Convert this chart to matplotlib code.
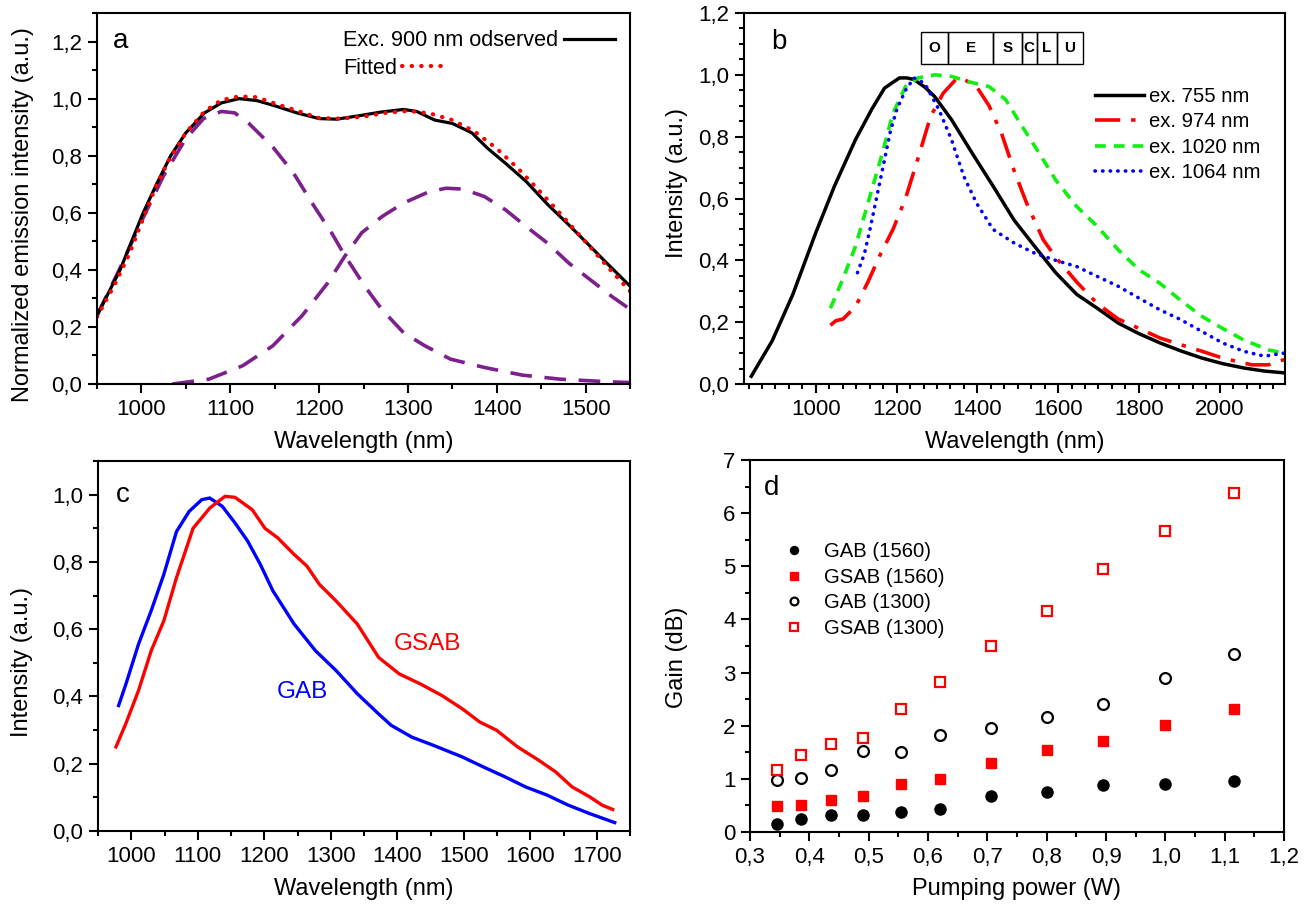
import matplotlib
matplotlib.use("Agg")
import matplotlib.pyplot as plt
from matplotlib.ticker import MultipleLocator, AutoMinorLocator, FuncFormatter
from matplotlib.patches import Rectangle

plt.rcParams['font.family'] = ['Liberation Sans', 'DejaVu Sans']

# ---------------- Panel a data ----------------
a_obs_x = [950, 963, 976, 989, 1002, 1017, 1033, 1050, 1071, 1090, 1110, 1130, 1150, 1175, 1200,
           1220, 1245, 1270, 1295, 1310, 1330, 1350, 1372, 1390, 1410, 1433, 1457, 1481, 1505, 1525, 1550]
a_obs_y = [0.24, 0.32, 0.40, 0.50, 0.60, 0.70, 0.80, 0.88, 0.95, 0.985, 1.0, 0.993, 0.975, 0.95, 0.93,
           0.928, 0.94, 0.953, 0.962, 0.955, 0.925, 0.913, 0.88, 0.825, 0.773, 0.71, 0.63, 0.558, 0.483, 0.42, 0.343]
a_fit_x = [950, 969, 986, 1000, 1014, 1030, 1050, 1071, 1090, 1110, 1130, 1150, 1175, 1200, 1225, 1250,
           1275, 1300, 1325, 1350, 1375, 1400, 1425, 1450, 1475, 1500, 1525, 1550]
a_fit_y = [0.235, 0.343, 0.453, 0.564, 0.674, 0.78, 0.88, 0.955, 0.995, 1.008, 1.005, 0.983, 0.958, 0.932,
           0.93, 0.937, 0.95, 0.957, 0.948, 0.925, 0.885, 0.825, 0.752, 0.67, 0.585, 0.498, 0.41, 0.325]
a_c1_x = [950, 975, 1000, 1025, 1050, 1070, 1090, 1105, 1121, 1148, 1171, 1195, 1214, 1229, 1252, 1271,
          1295, 1319, 1348, 1386, 1429, 1471, 1524, 1550]
a_c1_y = [0.24, 0.40, 0.57, 0.73, 0.86, 0.93, 0.955, 0.95, 0.913, 0.83, 0.74, 0.62, 0.53, 0.45, 0.34, 0.26,
          0.18, 0.134, 0.087, 0.058, 0.031, 0.017, 0.008, 0.005]
a_c2_x = [1035, 1076, 1114, 1148, 1181, 1210, 1229, 1248, 1271, 1295, 1324, 1343, 1362, 1386, 1410, 1433,
          1457, 1481, 1505, 1529, 1550]
a_c2_y = [0.0, 0.017, 0.064, 0.134, 0.24, 0.355, 0.448, 0.53, 0.587, 0.634, 0.674, 0.686, 0.683, 0.657,
          0.61, 0.552, 0.494, 0.424, 0.366, 0.308, 0.262]

# ---------------- Panel b data ----------------
b_755_x = [840, 892, 943, 1000, 1046, 1098, 1139, 1170, 1190, 1207, 1225, 1243, 1270, 1294, 1336, 1387,
           1439, 1491, 1542, 1594, 1646, 1697, 1749, 1800, 1852, 1904, 1956, 2007, 2059, 2110, 2160]
b_755_y = [0.025, 0.14, 0.29, 0.49, 0.64, 0.79, 0.89, 0.957, 0.975, 0.99, 0.99, 0.985, 0.96, 0.93, 0.855,
           0.747, 0.64, 0.53, 0.445, 0.36, 0.29, 0.245, 0.197, 0.163, 0.133, 0.107, 0.084, 0.066, 0.052, 0.042, 0.036]
b_974_x = [1036, 1050, 1067, 1098, 1129, 1160, 1191, 1222, 1253, 1284, 1315, 1346, 1362, 1380, 1398, 1429,
           1460, 1491, 1522, 1563, 1594, 1646, 1697, 1749, 1800, 1852, 1904, 1956, 2007, 2080, 2121, 2160]
b_974_y = [0.19, 0.205, 0.21, 0.25, 0.33, 0.42, 0.50, 0.60, 0.73, 0.865, 0.94, 0.984, 0.99, 0.975, 0.962,
           0.90, 0.81, 0.69, 0.585, 0.467, 0.41, 0.33, 0.26, 0.21, 0.18, 0.149, 0.127, 0.106, 0.084, 0.062, 0.062, 0.079]
b_1020_x = [1036, 1067, 1098, 1129, 1160, 1191, 1222, 1253, 1294, 1336, 1377, 1429, 1470, 1511, 1553, 1594,
            1646, 1697, 1749, 1800, 1852, 1904, 1956, 2007, 2059, 2121, 2160]
b_1020_y = [0.245, 0.34, 0.445, 0.585, 0.725, 0.876, 0.962, 0.99, 1.0, 0.995, 0.978, 0.962, 0.92, 0.833,
            0.747, 0.66, 0.574, 0.51, 0.434, 0.37, 0.326, 0.27, 0.219, 0.18, 0.143, 0.11, 0.10]
b_1064_x = [1103, 1120, 1134, 1150, 1170, 1185, 1201, 1222, 1243, 1260, 1274, 1305, 1336, 1367, 1398, 1439,
            1491, 1542, 1594, 1646, 1697, 1749, 1800, 1852, 1904, 1956, 2007, 2059, 2111, 2160]
b_1064_y = [0.36, 0.42, 0.50, 0.60, 0.725, 0.82, 0.89, 0.95, 0.99, 0.98, 0.962, 0.887, 0.79, 0.67, 0.585,
            0.50, 0.456, 0.423, 0.40, 0.38, 0.348, 0.316, 0.278, 0.24, 0.208, 0.17, 0.133, 0.106, 0.09, 0.10]
band_labels = ['O', 'E', 'S', 'C', 'L', 'U']
band_edges = [0.327, 0.378, 0.460, 0.513, 0.541, 0.578, 0.626]   # axes fraction (schematic box)

# ---------------- Panel c data ----------------
c_gab_x = [981, 992, 1011, 1030, 1049, 1068, 1087, 1106, 1118, 1137, 1156, 1175, 1194, 1213, 1245, 1277,
           1308, 1340, 1372, 1391, 1422, 1454, 1498, 1530, 1562, 1593, 1625, 1657, 1689, 1727]
c_gab_y = [0.373, 0.437, 0.556, 0.655, 0.763, 0.89, 0.95, 0.985, 0.99, 0.965, 0.916, 0.862, 0.793, 0.714,
           0.615, 0.536, 0.477, 0.408, 0.348, 0.314, 0.279, 0.255, 0.22, 0.19, 0.161, 0.131, 0.107, 0.077, 0.052, 0.025]
c_gsab_x = [977, 992, 1011, 1030, 1049, 1068, 1093, 1118, 1141, 1156, 1182, 1201, 1220, 1245, 1264, 1283,
            1308, 1340, 1372, 1403, 1435, 1467, 1498, 1524, 1549, 1581, 1613, 1638, 1663, 1689, 1708, 1724]
c_gsab_y = [0.25, 0.32, 0.418, 0.536, 0.625, 0.753, 0.90, 0.96, 0.995, 0.992, 0.955, 0.90, 0.872, 0.822,
            0.788, 0.733, 0.684, 0.615, 0.516, 0.467, 0.437, 0.403, 0.363, 0.324, 0.30, 0.25, 0.21, 0.176,
            0.131, 0.102, 0.077, 0.064]

# ---------------- Panel d data ----------------
d_power = [0.346, 0.386, 0.436, 0.491, 0.555, 0.621, 0.707, 0.800, 0.895, 1.000, 1.116]
d_gab1560 = [0.145, 0.25, 0.32, 0.32, 0.377, 0.44, 0.67, 0.76, 0.886, 0.91, 0.967]
d_gsab1560 = [0.484, 0.51, 0.60, 0.67, 0.91, 1.0, 1.30, 1.54, 1.715, 2.01, 2.31]
d_gab1300 = [0.986, 1.01, 1.175, 1.526, 1.507, 1.82, 1.966, 2.17, 2.405, 2.90, 3.35]
d_gsab1300 = [1.16, 1.445, 1.665, 1.76, 2.318, 2.827, 3.50, 4.165, 4.95, 5.666, 6.376]

RED = '#FF0000'
GREEN = '#11EE11'
BLUE = '#0000FF'
PURPLE = '#7D1F8D'

TICK_FS = 16
LABEL_FS = 17

comma = FuncFormatter(lambda v, p: f"{v:.1f}".replace('.', ','))
intfmt = FuncFormatter(lambda v, p: f"{v:.0f}")


def style(ax):
    for s in ax.spines.values():
        s.set_linewidth(1.5)
    ax.tick_params(which='both', direction='out', top=False, right=False, width=1.5,
                   labelsize=TICK_FS, pad=4)
    ax.tick_params(which='major', length=6.5)
    ax.tick_params(which='minor', length=3.6)


W, H = 1314, 906
fig = plt.figure(figsize=(W / 100, H / 100), dpi=100)
axa = fig.add_axes([97 / W, (H - 384) / H, 533 / W, 371 / H])
axb = fig.add_axes([744 / W, (H - 384) / H, 541 / W, 371 / H])
axc = fig.add_axes([98 / W, (H - 831) / H, 532 / W, 370 / H])
axd = fig.add_axes([750 / W, (H - 832) / H, 534 / W, 372 / H])

# ---- a ----
ax = axa
ax.plot(a_c1_x, a_c1_y, color=PURPLE, lw=2.6, dashes=(6, 3.5))
ax.plot(a_c2_x, a_c2_y, color=PURPLE, lw=2.6, dashes=(6, 3.5))
l_obs, = ax.plot(a_obs_x, a_obs_y, color='black', lw=2.3)
l_fit, = ax.plot(a_fit_x, a_fit_y, color=RED, lw=3.0, linestyle=(0, (0.1, 2.2)), dash_capstyle='round')
ax.set_xlim(950, 1550)
ax.set_ylim(0, 1.3)
ax.xaxis.set_major_locator(MultipleLocator(100))
ax.xaxis.set_minor_locator(MultipleLocator(50))
ax.yaxis.set_major_locator(MultipleLocator(0.2))
ax.yaxis.set_minor_locator(MultipleLocator(0.1))
ax.yaxis.set_major_formatter(comma)
style(ax)
ax.set_xlabel('Wavelength (nm)', fontsize=LABEL_FS)
ax.set_ylabel('Normalized emission intensity (a.u.)', fontsize=LABEL_FS)
ax.xaxis.set_label_coords(0.5, -0.127)
ax.yaxis.set_label_coords(-0.118, 0.458)
leg1 = ax.legend([l_obs], ['Exc. 900 nm odserved'], loc='upper left', bbox_to_anchor=(0.462, 0.953),
                 frameon=False, markerfirst=False, fontsize=15.6, handlelength=2.35, handletextpad=0.27,
                 borderpad=0, borderaxespad=0)
ax.add_artist(leg1)
ax.legend([l_fit], ['Fitted'], loc='upper left', bbox_to_anchor=(0.462, 0.880),
          frameon=False, markerfirst=False, fontsize=15.6, handlelength=2.1, handletextpad=0.2,
          borderpad=0, borderaxespad=0)
ax.text(0.03, 0.925, 'a', transform=ax.transAxes, fontsize=20, va='center', ha='left')

# ---- b ----
ax = axb
ax.plot(b_755_x, b_755_y, color='black', lw=2.5, label='ex. 755 nm')
ax.plot(b_974_x, b_974_y, color=RED, lw=2.6, dashes=(7, 3, 1.2, 3), label='ex. 974 nm')
ax.plot(b_1020_x, b_1020_y, color=GREEN, lw=2.6, dashes=(3, 2.2), label='ex. 1020 nm')
ax.plot(b_1064_x, b_1064_y, color=BLUE, lw=2.6, linestyle=(0, (0.1, 2.0)), dash_capstyle='round',
        label='ex. 1064 nm')
ax.set_xlim(822, 2162)
ax.set_ylim(0, 1.2)
ax.xaxis.set_major_locator(MultipleLocator(200))
ax.xaxis.set_minor_locator(AutoMinorLocator(6))
ax.yaxis.set_major_locator(MultipleLocator(0.2))
ax.yaxis.set_minor_locator(AutoMinorLocator(4))
ax.yaxis.set_major_formatter(comma)
style(ax)
ax.set_xlabel('Wavelength (nm)', fontsize=LABEL_FS)
ax.set_ylabel('Intensity (a.u.)', fontsize=LABEL_FS)
ax.xaxis.set_label_coords(0.5, -0.127)
ax.yaxis.set_label_coords(-0.1035, 0.542)
ax.legend(loc='upper left', bbox_to_anchor=(0.649, 0.8015), frameon=False, fontsize=14.6,
          handlelength=2.4, handletextpad=0.25, labelspacing=0.32, borderpad=0, borderaxespad=0)
for i, lab in enumerate(band_labels):
    x0, x1 = band_edges[i], band_edges[i + 1]
    ax.add_patch(Rectangle((x0, 0.862), x1 - x0, 0.088, transform=ax.transAxes, fill=False,
                           edgecolor='black', lw=1.0, clip_on=False))
    ax.text((x0 + x1) / 2, 0.906, lab, transform=ax.transAxes, ha='center', va='center',
            fontsize=11, fontweight='bold')
ax.text(0.05, 0.922, 'b', transform=ax.transAxes, fontsize=20, va='center', ha='left')

# ---- c ----
ax = axc
ax.plot(c_gab_x, c_gab_y, color=BLUE, lw=2.4)
ax.plot(c_gsab_x, c_gsab_y, color=RED, lw=2.4)
ax.set_xlim(950, 1750)
ax.set_ylim(0, 1.1)
ax.xaxis.set_major_locator(MultipleLocator(100))
ax.xaxis.set_minor_locator(MultipleLocator(50))
ax.yaxis.set_major_locator(MultipleLocator(0.2))
ax.yaxis.set_minor_locator(MultipleLocator(0.1))
ax.yaxis.set_major_formatter(comma)
style(ax)
ax.set_xlabel('Wavelength (nm)', fontsize=LABEL_FS)
ax.set_ylabel('Intensity (a.u.)', fontsize=LABEL_FS)
ax.xaxis.set_label_coords(0.5, -0.127)
ax.yaxis.set_label_coords(-0.122, 0.457)
ax.text(1446, 0.556, 'GSAB', color=RED, fontsize=17.5, ha='center', va='center')
ax.text(1258, 0.413, 'GAB', color=BLUE, fontsize=17.5, ha='center', va='center')
ax.text(0.033, 0.908, 'c', transform=ax.transAxes, fontsize=20, va='center', ha='left')

# ---- d ----
ax = axd
ax.plot(d_power, d_gab1560, 'o', color='black', ms=8, label='GAB (1560)')
ax.plot(d_power, d_gsab1560, 's', color=RED, ms=7.3, mec=RED, label='GSAB (1560)')
ax.plot(d_power, d_gab1300, 'o', mfc='none', mec='black', mew=1.6, ms=7.8, label='GAB (1300)')
ax.plot(d_power, d_gsab1300, 's', mfc='none', mec=RED, mew=1.6, ms=7.3, label='GSAB (1300)')
ax.set_xlim(0.3, 1.2)
ax.set_ylim(0, 7)
ax.xaxis.set_major_locator(MultipleLocator(0.1))
ax.xaxis.set_minor_locator(MultipleLocator(0.05))
ax.yaxis.set_major_locator(MultipleLocator(1))
ax.yaxis.set_minor_locator(MultipleLocator(0.5))
ax.xaxis.set_major_formatter(comma)
ax.yaxis.set_major_formatter(intfmt)
style(ax)
ax.set_xlabel('Pumping power (W)', fontsize=LABEL_FS)
ax.set_ylabel('Gain (dB)', fontsize=LABEL_FS)
ax.xaxis.set_label_coords(0.5, -0.124)
ax.yaxis.set_label_coords(-0.116, 0.47)
ax.legend(loc='upper left', bbox_to_anchor=(0.06, 0.779), frameon=False, fontsize=14.6, numpoints=1,
          markerscale=0.72, handlelength=1.2, handletextpad=0.88, labelspacing=0.32,
          borderpad=0, borderaxespad=0)
ax.text(0.026, 0.925, 'd', transform=ax.transAxes, fontsize=20, va='center', ha='left')

fig.savefig('out.png', dpi=100)
